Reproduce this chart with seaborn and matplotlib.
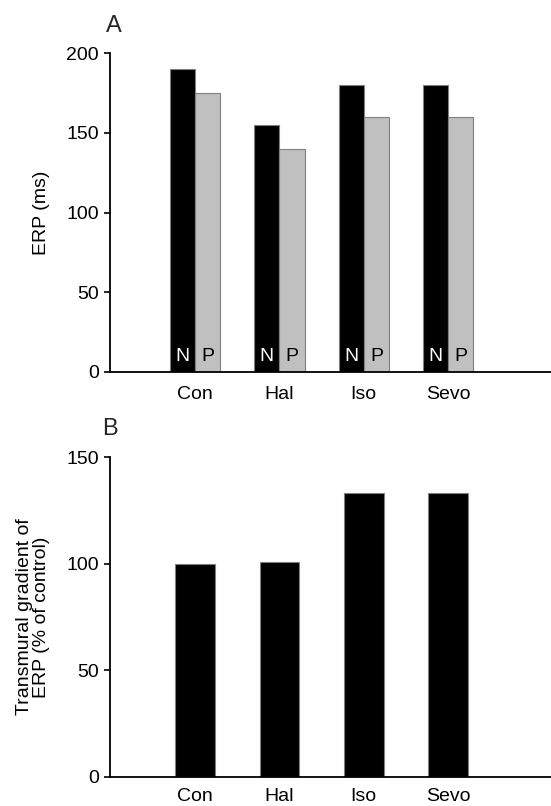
import matplotlib
matplotlib.use("Agg")
import matplotlib.pyplot as plt
import seaborn as sns
import pandas as pd

categories = ["Con", "Hal", "Iso", "Sevo"]
erp_N = [190, 155, 180, 180]
erp_P = [175, 140, 160, 160]
gradient = [100, 100.7, 133.4, 133.4]
groups = ["N", "P"]

sns.set_theme(style="white")
plt.rcParams["font.family"] = ["Liberation Sans", "DejaVu Sans"]

fig = plt.figure(figsize=(5.51, 8.06), dpi=100)
axA = fig.add_axes([110/551, 1-372/806, 1-110/551, (372-53)/806])
axB = fig.add_axes([110/551, 1-776.7/806, 1-110/551, (776.7-457.3)/806])

dfA = pd.DataFrame({
    "cat": categories * 2,
    "grp": ["N"] * 4 + ["P"] * 4,
    "val": erp_N + erp_P,
})
sns.barplot(data=dfA, x="cat", y="val", hue="grp", order=categories, hue_order=groups,
            palette={"N": "black", "P": "#c0c0c0"}, width=0.6, gap=0,
            edgecolor="#808080", linewidth=0.8, legend=False, ax=axA, errorbar=None)

dfB = pd.DataFrame({"cat": categories, "val": gradient})
sns.barplot(data=dfB, x="cat", y="val", order=categories, color="black", width=0.47,
            edgecolor="#808080", linewidth=0.8, ax=axB, errorbar=None)

# N / P labels inside bars
for i, c in enumerate(categories):
    axA.text(i - 0.15, 10, "N", color="white", ha="center", va="center", fontsize=14)
    axA.text(i + 0.15, 10, "P", color="black", ha="center", va="center", fontsize=14)

for ax, ylim, ticks in [(axA, 200, [0, 50, 100, 150, 200]), (axB, 150, [0, 50, 100, 150])]:
    ax.set_xlim(-1.01, 4.22)
    ax.set_ylim(0, ylim)
    ax.set_yticks(ticks)
    ax.set_xlabel("")
    for s in ["top", "right"]:
        ax.spines[s].set_visible(False)
    for s in ["left", "bottom"]:
        ax.spines[s].set_color("black")
        ax.spines[s].set_linewidth(1.3)
    ax.tick_params(axis="y", left=True, length=4, width=1.2, color="black", pad=4, labelsize=14, labelcolor="black")
    ax.tick_params(axis="x", bottom=False, length=0, labelsize=14, labelcolor="black")
    ax.yaxis.set_label_coords(-0.136, 0.5)

axA.tick_params(axis="x", pad=10)
axB.tick_params(axis="x", pad=8)
axA.set_ylabel("ERP (ms)", fontsize=14, color="black")
axB.set_ylabel("Transmural gradient of\nERP (% of control)", fontsize=14, color="black", linespacing=1.0)

fig.text(106/551, 1-32/806, "A", fontsize=17, ha="left", va="baseline")
fig.text(102/551, 1-435/806, "B", fontsize=17, ha="left", va="baseline")

fig.savefig("out.png", dpi=100)
